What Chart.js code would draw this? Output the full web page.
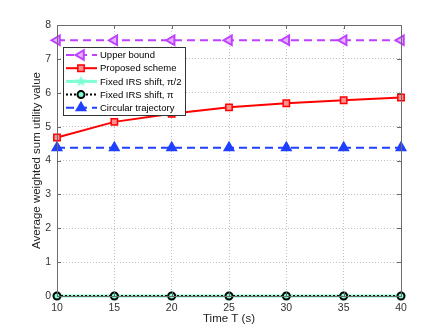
<!DOCTYPE html>
<html>
<head>
<meta charset="utf-8">
<script src="https://cdn.jsdelivr.net/npm/chart.js@4.4.0/dist/chart.umd.min.js"></script>
<style>
  html, body { margin: 0; padding: 0; background: #fff; }
  #wrap { width: 443px; height: 333px; }
</style>
</head>
<body>
<div id="wrap"><canvas id="myChart" width="443" height="333"></canvas></div>
<script>
// data
const timeT = [10, 15, 20, 25, 30, 35, 40];
const upperBound = [7.55, 7.55, 7.55, 7.55, 7.55, 7.55, 7.55];
const proposed = [4.68, 5.14, 5.38, 5.57, 5.69, 5.78, 5.86];
const fixedHalfPi = [0, 0, 0, 0, 0, 0, 0];
const fixedPi = [0, 0, 0, 0, 0, 0, 0];
const circular = [4.38, 4.38, 4.38, 4.38, 4.38, 4.38, 4.38];
const xTicks = [10, 15, 20, 25, 30, 35, 40];
const yTicks = [0, 1, 2, 3, 4, 5, 6, 7, 8];

const labels = ["Upper bound", "Proposed scheme", "Fixed IRS shift, \u03c0/2", "Fixed IRS shift, \u03c0", "Circular trajectory"];
const FONT = "'Liberation Sans', Arial, sans-serif";

// pentagram marker for the pi/2 curve
function makeStar(size, color) {
  const c = document.createElement("canvas");
  c.width = size; c.height = size;
  const g = c.getContext("2d");
  const r = size / 2, ri = r * 0.4;
  g.beginPath();
  for (let i = 0; i < 10; i++) {
    const rad = i % 2 === 0 ? r - 0.5 : ri;
    const a = -Math.PI / 2 + i * Math.PI / 5;
    const px = r + rad * Math.cos(a), py = r + rad * Math.sin(a);
    if (i === 0) g.moveTo(px, py); else g.lineTo(px, py);
  }
  g.closePath();
  g.fillStyle = color;
  g.fill();
  return c;
}
const starImg = makeStar(13, "#7fffd4");

function pts(arr) {
  return arr.map(function (v, i) { return { x: timeT[i], y: v }; });
}

const datasets = [
  {
    label: labels[0], data: pts(upperBound), order: 1,
    borderColor: "#bf40ff", borderWidth: 2, borderDash: [8, 5],
    pointStyle: "triangle", rotation: -90, pointRadius: 5.5,
    pointBackgroundColor: "#e4b3ff", pointBorderColor: "#bf40ff", pointBorderWidth: 2
  },
  {
    label: labels[1], data: pts(proposed), order: 1,
    borderColor: "#ff0000", borderWidth: 2,
    pointStyle: "rect", pointRadius: 4.5,
    pointBackgroundColor: "#ff9090", pointBorderColor: "#ff0000", pointBorderWidth: 1.5
  },
  {
    label: labels[2], data: pts(fixedHalfPi), order: 2,
    borderColor: "#7fffd4", borderWidth: 3,
    pointStyle: starImg, pointRadius: 6
  },
  {
    label: labels[3], data: pts(fixedPi), order: 0,
    borderColor: "#000000", borderWidth: 2, borderDash: [2, 2],
    pointStyle: "circle", pointRadius: 3.5,
    pointBackgroundColor: "#7fffd4", pointBorderColor: "#000000", pointBorderWidth: 2
  },
  {
    label: labels[4], data: pts(circular), order: 1,
    borderColor: "#2040ff", borderWidth: 2, borderDash: [8, 5],
    pointStyle: "triangle", pointRadius: 5.5,
    pointBackgroundColor: "#2040ff", pointBorderColor: "#2040ff", pointBorderWidth: 1.5
  }
];
datasets.forEach(function (d) {
  d.fill = false; d.tension = 0; d.clip = false;
  d.backgroundColor = d.borderColor;
});

// box around the plot + inward ticks
const boxPlugin = {
  id: "box",
  afterDatasetsDraw(chart) {
    const { ctx, chartArea: a, scales } = chart;
    ctx.save();
    ctx.strokeStyle = "#6b6b6b";
    ctx.lineWidth = 1;
    ctx.setLineDash([]);
    ctx.strokeRect(a.left + 0.5, a.top + 0.5, a.right - a.left, a.bottom - a.top);
    ctx.beginPath();
    xTicks.forEach(function (t) {
      const px = Math.round(scales.x.getPixelForValue(t)) + 0.5;
      ctx.moveTo(px, a.bottom); ctx.lineTo(px, a.bottom - 4);
      ctx.moveTo(px, a.top); ctx.lineTo(px, a.top + 4);
    });
    yTicks.forEach(function (t) {
      const py = Math.round(scales.y.getPixelForValue(t)) + 0.5;
      ctx.moveTo(a.left, py); ctx.lineTo(a.left + 4, py);
      ctx.moveTo(a.right, py); ctx.lineTo(a.right - 4, py);
    });
    ctx.stroke();
    ctx.restore();
  }
};

// legend drawn inside the axes, top left
const legendPlugin = {
  id: "innerLegend",
  afterDraw(chart) {
    const { ctx, chartArea: a } = chart;
    const x0 = a.left + 6, y0 = a.top + 22, w = 122, rowH = 13.2;
    const h = rowH * datasets.length + 2;
    ctx.save();
    ctx.fillStyle = "#fff";
    ctx.fillRect(x0, y0, w, h);
    ctx.strokeStyle = "#333";
    ctx.lineWidth = 1;
    ctx.strokeRect(x0 + 0.5, y0 + 0.5, w, h);
    ctx.font = "9.5px " + FONT;
    ctx.textBaseline = "middle";
    datasets.forEach(function (d, i) {
      const cy = y0 + 8 + i * rowH;
      ctx.save();
      ctx.strokeStyle = d.borderColor;
      ctx.lineWidth = d.borderWidth;
      ctx.setLineDash(d.borderDash || []);
      ctx.beginPath();
      ctx.moveTo(x0 + 3, cy); ctx.lineTo(x0 + 34, cy);
      ctx.stroke();
      ctx.restore();
      const mx = x0 + 18;
      ctx.save();
      if (d.pointStyle === starImg) {
        ctx.drawImage(starImg, mx - 6.5, cy - 6.5);
      } else {
        ctx.fillStyle = d.pointBackgroundColor;
        ctx.strokeStyle = d.pointBorderColor;
        ctx.lineWidth = d.pointBorderWidth;
        Chart.helpers.drawPoint(ctx, {
          pointStyle: d.pointStyle, rotation: d.rotation || 0,
          radius: d.pointRadius, borderWidth: d.pointBorderWidth
        }, mx, cy);
      }
      ctx.restore();
      ctx.fillStyle = "#000";
      ctx.fillText(d.label, x0 + 37, cy + 0.5);
    });
    ctx.restore();
  }
};

const ctx = document.getElementById("myChart").getContext("2d");
const myChart = new Chart(ctx, {
  type: "line",
  data: { datasets: datasets },
  plugins: [boxPlugin, legendPlugin],
  options: {
    responsive: false,
    animation: false,
    events: [],
    layout: { padding: { top: 25, right: 42, left: 0, bottom: 0 } },
    plugins: { legend: { display: false }, tooltip: { enabled: false } },
    scales: {
      x: {
        type: "linear", min: 10, max: 40,
        afterBuildTicks: function (s) { s.ticks = xTicks.map(function (v) { return { value: v }; }); },
        afterFit: function (s) { s.height = 37; },
        grid: { color: "#c0c0c0", drawTicks: false, lineWidth: 1 },
        border: { display: false, dash: [1, 2] },
        ticks: { color: "#333", font: { family: FONT, size: 10.5 }, padding: 6, maxRotation: 0 },
        title: { display: true, text: "Time T (s)", color: "#222", font: { family: FONT, size: 11.5 }, padding: { top: 1, bottom: 7 } }
      },
      y: {
        type: "linear", min: 0, max: 8,
        afterBuildTicks: function (s) { s.ticks = yTicks.map(function (v) { return { value: v }; }); },
        afterFit: function (s) { s.width = 57; },
        grid: { color: "#c0c0c0", drawTicks: false, lineWidth: 1 },
        border: { display: false, dash: [1, 2] },
        ticks: { color: "#333", font: { family: FONT, size: 10.5 }, padding: 6 },
        title: { display: true, text: "Average weighted sum utility value", color: "#222", font: { family: FONT, size: 11.5 }, padding: { top: 30, bottom: 0 } }
      }
    }
  }
});
</script>
</body>
</html>
